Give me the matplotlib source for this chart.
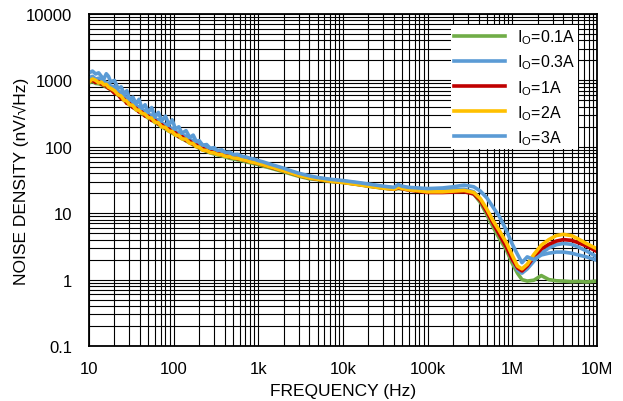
import matplotlib

matplotlib.use("Agg")
import matplotlib.pyplot as plt
from matplotlib.ticker import FixedLocator, LogLocator, NullFormatter

plt.rcParams["font.family"] = ["Liberation Sans", "DejaVu Sans"]

# frequency grid (Hz)
freq = [
    10, 11, 12, 13, 14, 15, 16, 17, 18, 20,
    22, 24, 26, 28, 30, 33, 36, 39, 42, 46,
    50, 55, 60, 66, 72, 80, 88, 96, 105, 115,
    125, 140, 155, 170, 185, 200, 220, 245, 270, 300,
    330, 370, 410, 460, 510, 570, 640, 720, 800, 900,
    1e3, 1.15e3, 1.3e3, 1.5e3, 1.75e3, 2e3, 2.5e3, 3e3, 4e3, 5e3,
    7e3, 10e3, 15e3, 20e3, 30e3, 40e3, 45e3, 50e3, 60e3, 100e3,
    150e3, 200e3, 270e3, 350e3, 420e3, 500e3, 600e3, 700e3, 850e3, 1e6,
    1.15e6, 1.3e6, 1.5e6, 1.8e6, 2.2e6, 2.7e6, 3.3e6, 4e6, 5e6, 6e6,
    7.5e6, 10e6,
]

# noise density (nV/rtHz) per load current
io_01a = [
    920, 960, 900, 890, 860, 830, 790, 770, 720, 660,
    600, 540, 500, 460, 430, 395, 360, 340, 315, 292,
    272, 252, 234, 216, 201, 185, 172, 161, 151, 141,
    133, 123, 114, 107, 101, 95, 90, 85, 81, 78,
    75.5, 73, 70, 67, 65.5, 63.5, 62, 59, 57.5, 55.5,
    54, 51, 49, 46.5, 44, 42, 38.5, 36, 33, 32,
    30, 29, 27, 25.5, 23.8, 23, 23.5, 23.2, 22.5, 21,
    21, 21, 21.5, 19.5, 14.5, 9.5, 6.0, 4.2, 2.8, 1.75,
    1.25, 1.0, 0.95, 0.98, 1.15, 1.0, 0.96, 0.95, 0.93, 0.94,
    0.92, 0.95,
]
io_03a = [
    1100, 1150, 1050, 1080, 1000, 980, 920, 900, 820, 800,
    690, 660, 570, 560, 490, 470, 410, 400, 355, 350,
    305, 300, 262, 255, 225, 218, 193, 190, 168, 166,
    148, 145, 127, 125, 112, 110, 100, 97, 90, 88,
    84, 82, 78, 76, 73, 71, 69, 66, 64, 62,
    60, 57, 54.5, 51.5, 48.5, 46, 42, 39, 35.5, 34,
    32, 30.5, 28.5, 27, 25, 24, 25.5, 24.5, 23.5, 22,
    22, 22.5, 23, 21, 16, 10.5, 7.0, 5.0, 3.2, 2.0,
    1.4, 1.25, 1.45, 1.9, 2.5, 3.0, 3.35, 3.5, 3.4, 3.1,
    2.7, 2.2,
]
io_1a = [
    980, 1000, 930, 960, 880, 850, 820, 760, 740, 640,
    620, 530, 520, 450, 450, 390, 380, 335, 335, 290,
    290, 250, 250, 220, 215, 190, 185, 165, 162, 142,
    143, 124, 122, 108, 107, 97, 95, 87, 86, 81,
    80, 75, 74, 70, 69, 66, 65, 61.5, 60, 57.5,
    56, 53, 51, 48, 45.5, 43.5, 40, 37, 34, 32.5,
    30.5, 29.2, 27.2, 25.8, 24, 23, 24, 23.4, 22.3, 20.5,
    20.5, 20.8, 21, 19.5, 15.5, 10.5, 6.8, 4.8, 3.1, 2.0,
    1.5, 1.35, 1.6, 2.2, 2.9, 3.4, 3.8, 4.0, 3.9, 3.6,
    3.2, 2.65,
]
io_2a = [
    950, 1050, 1000, 920, 940, 860, 870, 790, 760, 700,
    610, 580, 500, 490, 430, 420, 360, 355, 320, 310,
    275, 270, 235, 230, 200, 196, 172, 170, 150, 149,
    132, 130, 113, 112, 100, 99, 89, 88, 82, 81,
    77, 76, 72, 71, 68, 67, 64, 62.5, 59.5, 58,
    56, 53.5, 51, 48.5, 45.5, 43.5, 40, 37, 34, 32.5,
    30.5, 29, 27, 25.5, 23.8, 23, 24.5, 23.6, 22.5, 21,
    21, 21.5, 22, 20.5, 16.5, 11.5, 7.5, 5.5, 3.6, 2.3,
    1.6, 1.45, 1.7, 2.4, 3.3, 4.0, 4.6, 4.8, 4.6, 4.1,
    3.5, 2.9,
]
io_3a = [
    1300, 1380, 1250, 1300, 1150, 1050, 1260, 1150, 950, 1000,
    760, 800, 620, 700, 520, 560, 440, 520, 380, 430,
    330, 390, 280, 330, 245, 290, 215, 255, 185, 200,
    160, 175, 138, 150, 120, 124, 106, 108, 95, 97,
    88, 90, 82, 83, 76, 77, 72, 70, 67, 65,
    62, 59, 56, 53, 50, 47.5, 43, 40, 36.5, 34.5,
    32.5, 31, 29, 27.5, 25.5, 24.5, 27, 25.5, 24.5, 23.5,
    24, 25, 26.5, 25, 21.5, 17, 12, 9.0, 5.5, 3.4,
    2.4, 1.8, 2.2, 2.0, 2.35, 2.5, 2.6, 2.6, 2.5, 2.35,
    2.2, 1.95,
]

labels = ["0.1A", "0.3A", "1A", "2A", "3A"]
colors = ["#70AD47", "#5B9BD5", "#C00000", "#FFC000", "#5B9BD5"]
series = [io_01a, io_03a, io_1a, io_2a, io_3a]

x_ticks = [10, 100, 1e3, 10e3, 100e3, 1e6, 10e6]
x_ticklabels = ["10", "100", "1k", "10k", "100k", "1M", "10M"]
y_ticks = [0.1, 1, 10, 100, 1000, 10000]
y_ticklabels = ["0.1", "1", "10", "100", "1000", "10000"]

fig = plt.figure(figsize=(6.23, 4.02), dpi=100)
ax = fig.add_axes([89 / 623, 1 - 347 / 402, 508 / 623, 332 / 402])

for vals, lab, col in zip(series, labels, colors):
    ax.plot(freq, vals, color=col, lw=2.6, label=r"I$_\mathregular{O}$=" + lab,
            solid_joinstyle="round")

ax.set_xscale("log")
ax.set_yscale("log")
ax.set_xlim(10, 10e6)
ax.set_ylim(0.1, 10000)

ax.xaxis.set_major_locator(FixedLocator(x_ticks))
ax.set_xticklabels(x_ticklabels)
ax.yaxis.set_major_locator(FixedLocator(y_ticks))
ax.set_yticklabels(y_ticklabels)
ax.xaxis.set_minor_locator(LogLocator(base=10, subs=range(2, 10)))
ax.yaxis.set_minor_locator(LogLocator(base=10, subs=range(2, 10)))
ax.xaxis.set_minor_formatter(NullFormatter())
ax.yaxis.set_minor_formatter(NullFormatter())
ax.tick_params(which="both", length=0, labelsize=12)
ax.tick_params(axis="x", pad=11)
ax.tick_params(axis="y", pad=12)

ax.grid(True, which="both", color="black", lw=0.8)
ax.set_axisbelow(True)
for sp in ax.spines.values():
    sp.set_color("black")
    sp.set_linewidth(1.3)

ax.set_xlabel("FREQUENCY (Hz)", fontsize=12.5)
ax.set_ylabel("NOISE DENSITY (nV/\u221aHz)", fontsize=12.5)
ax.xaxis.set_label_coords(0.5, -0.11)
ax.yaxis.set_label_coords(-0.118, 0.5)

leg = ax.legend(loc="upper right", bbox_to_anchor=(0.978, 0.99), fontsize=11.5,
                handlelength=3.25, handletextpad=0.75, labelspacing=0.4,
                frameon=True, fancybox=False, framealpha=1, borderpad=0.15)
leg.get_frame().set_edgecolor("white")
leg.get_frame().set_linewidth(0)

fig.savefig("out.png", dpi=100)
